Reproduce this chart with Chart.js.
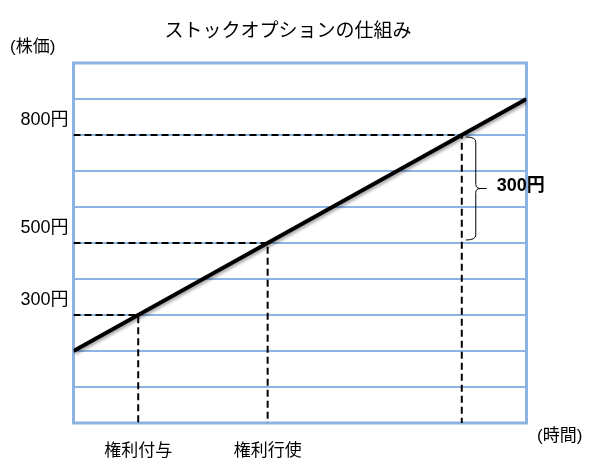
<!DOCTYPE html>
<html>
<head>
<meta charset="utf-8">
<script src="https://cdn.jsdelivr.net/npm/chart.js@4/dist/chart.umd.min.js"></script>
<style>
html,body{margin:0;padding:0;background:#fff;}
#wrap{width:590px;height:468px;position:relative;}
</style>
</head>
<body>
<div id="wrap"><canvas id="c" width="590" height="468"></canvas></div>
<script>
// ---- data ----
const titleText = "ストックオプションの仕組み";
const yAxisName = "(株価)";
const xAxisName = "(時間)";
const lineTimes = [0, 7];
const linePrices = [200, 900];
const eventTimes = [1, 3, 6];
const eventPrices = [300, 500, 800];
const eventLabels = ["権利付与", "権利行使", ""];
const yTickValues = [300, 500, 800];
const yTickLabels = ["300円", "500円", "800円"];
const gainLabel = "300円";

const CJK = "'Noto Sans CJK JP', sans-serif";
const MIX = "'Liberation Sans', 'Noto Sans CJK JP', sans-serif";
const BLUE = "#8db3e2";

const datasets = [];
datasets.push({
  label: "株価",
  data: lineTimes.map((t, i) => ({x: t, y: linePrices[i]})),
  borderColor: "#000",
  borderWidth: 4,
  pointRadius: 0,
  fill: false,
  order: 0,
  shadow: true
});
eventTimes.forEach((t, i) => {
  datasets.push({
    label: "guide" + i,
    data: [{x: 0, y: eventPrices[i]}, {x: t, y: eventPrices[i]}, {x: t, y: 0}],
    borderColor: "#000",
    borderWidth: 2,
    borderDash: [7, 4],
    pointRadius: 0,
    fill: false,
    order: 1
  });
});

const decor = {
  id: "decor",
  beforeDatasetsDraw(chart) {
    const {ctx, chartArea: a} = chart;
    ctx.save();
    ctx.strokeStyle = BLUE;
    ctx.lineWidth = 3;
    ctx.strokeRect(a.left, a.top, a.right - a.left, a.bottom - a.top);
    ctx.restore();
  },
  beforeDatasetDraw(chart, args) {
    if (chart.data.datasets[args.index].shadow) {
      const ctx = chart.ctx;
      ctx.save();
      ctx.shadowColor = "rgba(0,0,0,0.35)";
      ctx.shadowBlur = 3;
      ctx.shadowOffsetX = 1.5;
      ctx.shadowOffsetY = 2;
    }
  },
  afterDatasetDraw(chart, args) {
    if (chart.data.datasets[args.index].shadow) chart.ctx.restore();
  },
  afterDraw(chart) {
    const {ctx} = chart;
    const xs = chart.scales.x, ys = chart.scales.y;
    ctx.save();
    ctx.fillStyle = "#000";
    // title
    ctx.font = "19px " + CJK;
    ctx.textAlign = "center";
    ctx.textBaseline = "middle";
    ctx.fillText(titleText, 288, 30);
    // axis names
    ctx.font = "17px " + MIX;
    ctx.textAlign = "left";
    ctx.fillText(yAxisName, 10, 47);
    ctx.fillText(xAxisName, 537, 436);
    // brace
    const xb = xs.getPixelForValue(eventTimes[2]);
    const yTop = ys.getPixelForValue(eventPrices[2]) + 2;
    const yBot = ys.getPixelForValue(eventPrices[1]) - 3;
    const yMid = (yTop + yBot) / 2;
    const x0 = xb + 4, x1 = xb + 14, x2 = xb + 25;
    ctx.strokeStyle = "#000";
    ctx.lineWidth = 1;
    ctx.beginPath();
    ctx.moveTo(x0, yTop);
    ctx.quadraticCurveTo(x1, yTop, x1, yTop + 5);
    ctx.lineTo(x1, yMid - 4);
    ctx.quadraticCurveTo(x1, yMid, x1 + 5, yMid);
    ctx.lineTo(x2, yMid);
    ctx.moveTo(x1 + 5, yMid);
    ctx.quadraticCurveTo(x1, yMid, x1, yMid + 4);
    ctx.lineTo(x1, yBot - 5);
    ctx.quadraticCurveTo(x1, yBot, x0, yBot);
    ctx.stroke();
    ctx.font = "bold 18px " + MIX;
    ctx.textBaseline = "middle";
    ctx.fillText(gainLabel, x2 + 10, yMid - 2);
    ctx.restore();
  }
};

new Chart(document.getElementById("c"), {
  type: "line",
  data: {datasets},
  plugins: [decor],
  options: {
    responsive: false,
    animation: false,
    layout: {padding: {top: 63, right: 63.5, bottom: 0, left: 0}},
    plugins: {legend: {display: false}, tooltip: {enabled: false}, title: {display: false}},
    scales: {
      x: {
        type: "linear",
        min: 0, max: 7,
        afterFit(s) { s.height = 45; },
        afterBuildTicks(s) { s.ticks = eventTimes.slice(0, 2).map(v => ({value: v})); },
        grid: {display: false, drawTicks: false},
        border: {display: false},
        ticks: {
          padding: 16,
          color: "#000",
          font: {family: CJK, size: 17},
          maxRotation: 0,
          autoSkip: false,
          callback: (v) => { const i = eventTimes.indexOf(v); return i >= 0 ? eventLabels[i] : ""; }
        }
      },
      y: {
        type: "linear",
        min: 0, max: 1000,
        afterFit(s) { s.width = 73.5; },
        ticks: {
          stepSize: 100,
          padding: 5,
          labelOffset: -15,
          color: "#000",
          font: {family: MIX, size: 18},
          callback: (v) => { const i = yTickValues.indexOf(v); return i >= 0 ? yTickLabels[i] : ""; }
        },
        grid: {color: BLUE, lineWidth: 2, drawTicks: false},
        border: {display: false}
      }
    }
  }
});
</script>
</body>
</html>
